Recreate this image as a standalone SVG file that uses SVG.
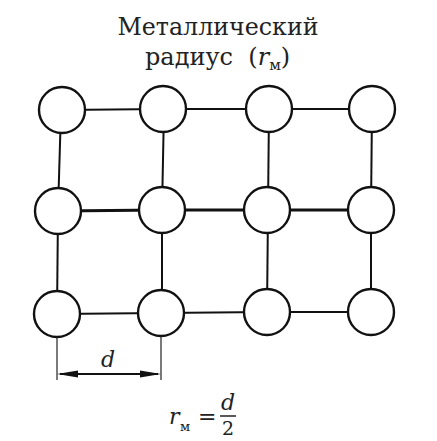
<svg xmlns="http://www.w3.org/2000/svg" width="437" height="441" viewBox="0 0 437 441">
<defs>
<style>
.atom{fill:#fff;stroke:#111;stroke-width:2.4}
.bond{stroke:#111;stroke-width:2;fill:none}
.thick{stroke-width:3}
.thin{stroke:#222;stroke-width:1.2;fill:none}
.head{fill:#111;stroke:none}
.t{fill:#222}
.i{font-style:italic}
</style>
</defs>
<rect width="437" height="441" fill="#fff"/>
<g id="title" font-family="DejaVu Serif, Liberation Serif, serif">
<text class="t" x="218" y="35" font-size="24" text-anchor="middle" textLength="201" lengthAdjust="spacingAndGlyphs">Металлический</text>
<text class="t" x="145" y="65" font-size="24" xml:space="preserve">радиус  (<tspan class="i">r</tspan><tspan font-size="15" dy="5">м</tspan><tspan dy="-5">)</tspan></text>
</g>
<g id="connectors">
<line class="bond" x1="62" y1="110" x2="163" y2="109"/>
<line class="bond" x1="163" y1="109" x2="269" y2="109"/>
<line class="bond" x1="269" y1="109" x2="372" y2="109"/>
<line class="bond thick" x1="58" y1="211" x2="162" y2="210"/>
<line class="bond thick" x1="162" y1="210" x2="267" y2="210"/>
<line class="bond thick" x1="267" y1="210" x2="371" y2="210"/>
<line class="bond" x1="57" y1="314" x2="161" y2="313"/>
<line class="bond" x1="161" y1="313" x2="267" y2="312"/>
<line class="bond" x1="267" y1="312" x2="371" y2="312"/>
<line class="bond" x1="61" y1="110" x2="58" y2="211"/>
<line class="bond" x1="58" y1="211" x2="57" y2="314"/>
<line class="bond" x1="164" y1="109" x2="162" y2="210"/>
<line class="bond" x1="162" y1="210" x2="162" y2="313"/>
<line class="bond" x1="269" y1="109" x2="268" y2="210"/>
<line class="bond" x1="268" y1="210" x2="267" y2="312"/>
<line class="bond" x1="372" y1="109" x2="371" y2="210"/>
<line class="bond" x1="371" y1="210" x2="371" y2="312"/>
</g>
<g id="atom-1-1"><circle class="atom" cx="62" cy="110" r="23"/></g>
<g id="atom-1-2"><circle class="atom" cx="163" cy="109" r="23"/></g>
<g id="atom-1-3"><circle class="atom" cx="269" cy="109" r="23"/></g>
<g id="atom-1-4"><circle class="atom" cx="372" cy="109" r="23"/></g>
<g id="atom-2-1"><circle class="atom" cx="58" cy="211" r="23"/></g>
<g id="atom-2-2"><circle class="atom" cx="162" cy="210" r="23"/></g>
<g id="atom-2-3"><circle class="atom" cx="267" cy="210" r="23"/></g>
<g id="atom-2-4"><circle class="atom" cx="371" cy="210" r="23"/></g>
<g id="atom-3-1"><circle class="atom" cx="57" cy="314" r="23"/></g>
<g id="atom-3-2"><circle class="atom" cx="161" cy="313" r="23"/></g>
<g id="atom-3-3"><circle class="atom" cx="267" cy="312" r="23"/></g>
<g id="atom-3-4"><circle class="atom" cx="371" cy="312" r="23"/></g>
<g id="dimension">
<line class="thin" x1="57" y1="337" x2="57" y2="380"/>
<line class="thin" x1="161" y1="336" x2="161" y2="380"/>
<line class="bond" x1="60" y1="374" x2="158" y2="374" stroke-width="1.8"/>
<path class="head" d="M57,374 L78,370.5 L78,377.5 Z"/>
<path class="head" d="M161,374 L140,370.5 L140,377.5 Z"/>
<text class="t i" x="108" y="367" font-size="22" text-anchor="middle" font-family="DejaVu Serif, Liberation Serif, serif">d</text>
</g>
<g id="formula" font-family="DejaVu Serif, Liberation Serif, serif">
<text class="t i" x="169" y="424" font-size="22">r</text>
<text class="t" x="180" y="431" font-size="13">м</text>
<text class="t" x="198" y="424" font-size="22">=</text>
<text class="t i" x="228" y="410" font-size="22" text-anchor="middle">d</text>
<line x1="220" y1="416" x2="236" y2="416" stroke="#222" stroke-width="1.5"/>
<text class="t" x="228" y="435" font-size="19" text-anchor="middle">2</text>
</g>
</svg>
